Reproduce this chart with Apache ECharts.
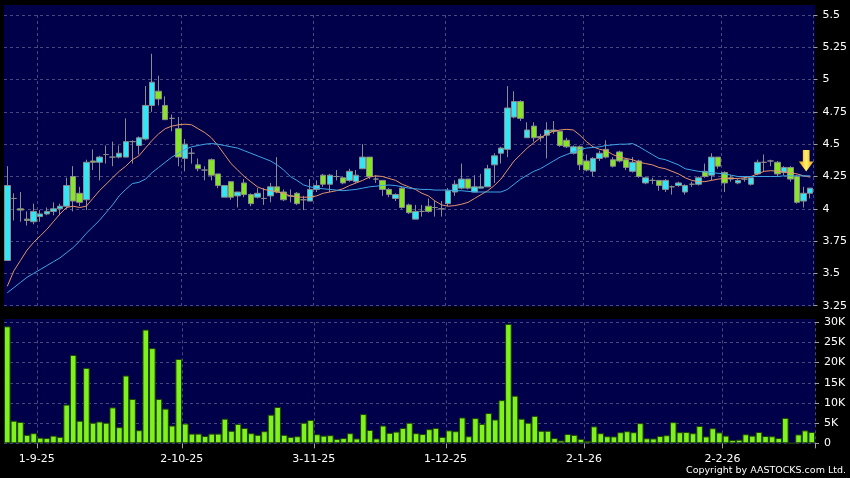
<!DOCTYPE html>
<html>
<head>
<meta charset="utf-8">
<script src="https://cdn.jsdelivr.net/npm/echarts@6/dist/echarts.min.js"></script>
<style>
html,body{margin:0;padding:0;background:#000;}
#chart{width:850px;height:478px;}
</style>
</head>
<body>
<div id="chart"></div>
<script>
const dates = [
'2025-08-25','2025-08-26','2025-08-27','2025-08-28','2025-08-29',
'2025-09-01','2025-09-02','2025-09-03','2025-09-04','2025-09-05',
'2025-09-08','2025-09-09','2025-09-10','2025-09-11','2025-09-12',
'2025-09-15','2025-09-16','2025-09-17','2025-09-18','2025-09-19',
'2025-09-22','2025-09-23','2025-09-24','2025-09-25','2025-09-26',
'2025-09-29','2025-09-30',
'2025-10-02','2025-10-03','2025-10-06','2025-10-08','2025-10-09','2025-10-10',
'2025-10-13','2025-10-14','2025-10-15','2025-10-16','2025-10-17',
'2025-10-20','2025-10-21','2025-10-22','2025-10-23','2025-10-24',
'2025-10-27','2025-10-28','2025-10-30','2025-10-31',
'2025-11-03','2025-11-04','2025-11-05','2025-11-06','2025-11-07',
'2025-11-10','2025-11-11','2025-11-12','2025-11-13','2025-11-14',
'2025-11-17','2025-11-18','2025-11-19','2025-11-20','2025-11-21',
'2025-11-24','2025-11-25','2025-11-26','2025-11-27','2025-11-28',
'2025-12-01','2025-12-02','2025-12-03','2025-12-04','2025-12-05',
'2025-12-08','2025-12-09','2025-12-10','2025-12-11','2025-12-12',
'2025-12-15','2025-12-16','2025-12-17','2025-12-18','2025-12-19',
'2025-12-22','2025-12-23','2025-12-24','2025-12-29','2025-12-30','2025-12-31',
'2026-01-02','2026-01-05','2026-01-06','2026-01-07','2026-01-08','2026-01-09',
'2026-01-12','2026-01-13','2026-01-14','2026-01-15','2026-01-16',
'2026-01-19','2026-01-20','2026-01-21','2026-01-22','2026-01-23',
'2026-01-26','2026-01-27','2026-01-28','2026-01-29','2026-01-30',
'2026-02-02','2026-02-03','2026-02-04','2026-02-05','2026-02-06',
'2026-02-09','2026-02-10','2026-02-11','2026-02-12','2026-02-13',
'2026-02-16','2026-02-20','2026-02-23','2026-02-24'
];

const opens = [3.60,4.08,4.00,3.92,3.90,3.94,3.96,3.98,4.00,4.02,
4.25,4.12,4.07,4.37,4.36,4.42,4.40,4.40,4.40,4.52,
4.49,4.54,4.80,4.91,4.80,4.70,4.62,4.39,4.43,4.34,
4.30,4.38,4.27,4.09,4.21,4.10,4.20,4.11,4.09,4.08,
4.10,4.17,4.13,4.10,4.12,4.07,4.06,4.15,4.26,4.19,
4.25,4.24,4.22,4.21,4.31,4.40,4.23,4.22,4.15,4.08,
4.16,4.03,3.92,3.98,4.02,4.01,4.00,4.04,4.13,4.16,
4.23,4.13,4.16,4.17,4.34,4.43,4.46,4.71,4.83,4.55,
4.64,4.56,4.57,4.61,4.60,4.53,4.43,4.48,4.37,4.29,
4.39,4.46,4.38,4.44,4.38,4.29,4.37,4.20,4.22,4.22,
4.15,4.17,4.18,4.13,4.19,4.19,4.29,4.26,4.40,4.28,
4.24,4.20,4.23,4.19,4.27,4.36,4.37,4.36,4.28,4.32,
4.25,4.06,4.12];

const closes = [4.18,4.08,3.99,3.91,3.98,3.96,3.98,4.00,4.02,4.18,
4.06,4.05,4.36,4.36,4.40,4.42,4.40,4.43,4.52,4.52,
4.55,4.80,4.98,4.85,4.69,4.70,4.40,4.50,4.43,4.31,
4.30,4.26,4.18,4.18,4.09,4.13,4.11,4.04,4.12,4.08,
4.17,4.13,4.07,4.10,4.04,4.07,4.15,4.18,4.19,4.26,
4.25,4.20,4.29,4.26,4.40,4.25,4.23,4.15,4.11,4.11,
4.01,3.97,3.98,3.98,3.98,4.01,4.00,4.14,4.19,4.23,
4.16,4.17,4.17,4.31,4.41,4.47,4.78,4.83,4.70,4.61,
4.55,4.55,4.61,4.60,4.49,4.48,4.48,4.34,4.30,4.39,
4.43,4.40,4.33,4.37,4.32,4.36,4.25,4.24,4.22,4.18,
4.22,4.17,4.20,4.18,4.19,4.24,4.25,4.40,4.33,4.20,
4.23,4.22,4.23,4.24,4.36,4.36,4.37,4.27,4.32,4.23,
4.05,4.12,4.16];

const lows = [3.60,3.91,3.90,3.87,3.88,3.90,3.95,3.95,3.95,4.00,
3.98,4.02,3.99,4.30,4.22,4.35,4.33,4.39,4.40,4.35,
4.42,4.53,4.75,4.80,4.69,4.60,4.33,4.29,4.35,4.29,
4.22,4.22,4.16,4.09,4.07,4.01,4.09,4.02,4.08,4.03,
4.05,4.12,4.06,4.05,4.03,3.99,4.06,4.13,4.17,4.13,
4.22,4.19,4.21,4.20,4.31,4.23,4.20,4.10,4.09,4.06,
4.00,3.96,3.92,3.94,3.97,3.94,3.94,4.02,4.10,4.15,
4.15,4.13,4.16,4.17,4.20,4.35,4.40,4.70,4.68,4.55,
4.52,4.52,4.39,4.58,4.48,4.47,4.42,4.30,4.29,4.25,
4.37,4.39,4.32,4.36,4.30,4.28,4.24,4.19,4.19,4.14,
4.13,4.11,4.17,4.11,4.17,4.18,4.24,4.22,4.31,4.13,
4.21,4.19,4.21,4.18,4.26,4.29,4.33,4.25,4.26,4.21,
4.04,4.01,4.08];

const highs = [4.33,4.12,4.13,3.98,4.04,3.99,4.01,4.05,4.04,4.24,
4.33,4.17,4.38,4.46,4.41,4.49,4.52,4.49,4.70,4.53,
4.56,4.95,5.20,5.03,4.87,4.73,4.71,4.54,4.47,4.39,
4.33,4.39,4.27,4.18,4.21,4.13,4.23,4.12,4.16,4.16,
4.20,4.40,4.15,4.15,4.13,4.10,4.23,4.22,4.27,4.27,
4.30,4.25,4.31,4.30,4.50,4.40,4.26,4.22,4.16,4.12,
4.17,4.04,4.03,4.03,4.08,4.06,4.06,4.16,4.22,4.35,
4.23,4.26,4.27,4.34,4.43,4.48,4.95,4.91,4.84,4.67,
4.67,4.58,4.67,4.68,4.60,4.55,4.49,4.49,4.42,4.40,
4.45,4.53,4.40,4.45,4.39,4.40,4.38,4.25,4.24,4.22,
4.23,4.18,4.21,4.19,4.21,4.25,4.35,4.43,4.40,4.29,
4.26,4.23,4.25,4.24,4.38,4.42,4.38,4.37,4.33,4.33,
4.26,4.17,4.16];

const volumes = [29000,5600,5300,2100,2500,1400,1300,1900,1600,9600,
21900,5600,18700,5100,5400,5100,8900,4000,16800,11000,
3250,28200,23600,11000,8600,4400,20900,4900,2400,2400,
1800,2400,2400,6100,3100,4800,3800,2500,2100,3000,
7100,9000,2100,1600,1750,5100,5800,2250,1900,2000,
1100,1300,2500,1200,7250,3300,1200,4400,2600,2900,
3800,5100,2500,2300,3500,3800,1600,3200,3000,6400,
1750,6250,4800,7500,5900,10700,29600,11800,6100,5100,
6800,3100,3100,1300,700,2300,2100,1100,600,4200,
2500,1750,1700,2750,3000,2750,5000,1250,1200,1800,
2000,5250,2750,2800,2500,4300,1700,3750,2700,1900,
800,900,2250,1900,2800,1800,1750,1300,6300,0,
2200,3200,2800];

const maShort = [3.40,3.52,3.60,3.68,3.74,3.79,3.84,3.90,3.96,4.01,
4.02,4.01,4.02,4.08,4.14,4.19,4.24,4.29,4.33,4.38,
4.41,4.47,4.53,4.58,4.62,4.64,4.65,4.655,4.65,4.62,
4.59,4.55,4.49,4.42,4.35,4.30,4.25,4.21,4.17,4.15,
4.14,4.13,4.12,4.10,4.09,4.09,4.09,4.10,4.12,4.13,
4.14,4.155,4.18,4.20,4.22,4.245,4.255,4.25,4.235,4.22,
4.19,4.17,4.15,4.12,4.10,4.06,4.03,4.02,4.025,4.035,
4.05,4.08,4.11,4.14,4.18,4.23,4.30,4.37,4.42,4.47,
4.51,4.55,4.58,4.60,4.61,4.615,4.61,4.57,4.52,4.48,
4.46,4.45,4.42,4.40,4.39,4.38,4.36,4.35,4.34,4.32,
4.31,4.29,4.27,4.24,4.22,4.21,4.21,4.22,4.23,4.235,
4.235,4.235,4.24,4.25,4.27,4.29,4.295,4.29,4.285,4.28,
4.27,4.255,4.245];

const maLong = [3.35,3.39,3.43,3.47,3.50,3.53,3.56,3.59,3.62,3.66,
3.70,3.75,3.81,3.86,3.91,3.97,4.03,4.10,4.15,4.195,
4.205,4.23,4.28,4.32,4.36,4.40,4.43,4.46,4.48,4.49,
4.50,4.505,4.50,4.49,4.48,4.47,4.45,4.43,4.41,4.39,
4.37,4.34,4.30,4.25,4.22,4.185,4.17,4.16,4.155,4.15,
4.145,4.14,4.145,4.15,4.16,4.17,4.175,4.18,4.184,4.18,
4.17,4.16,4.155,4.15,4.15,4.145,4.145,4.145,4.14,4.14,
4.135,4.13,4.13,4.13,4.13,4.13,4.15,4.19,4.23,4.26,
4.29,4.31,4.34,4.37,4.40,4.42,4.44,4.46,4.47,4.475,
4.48,4.49,4.495,4.50,4.50,4.505,4.48,4.45,4.42,4.39,
4.38,4.36,4.34,4.31,4.30,4.29,4.285,4.28,4.275,4.27,
4.26,4.25,4.25,4.25,4.25,4.25,4.25,4.25,4.255,4.255,
4.255,4.255,4.255];

const priceMin = 3.25, priceMax = 5.5, priceStep = 0.25;
const volMin = 0, volMax = 30000, volStep = 5000;
const labelIndexes = [5, 27, 47, 67, 88, 109];

function fmtDate(s) {
  const p = s.split('-');
  return parseInt(p[2], 10) + '-' + parseInt(p[1], 10) + '-' + p[0].slice(2);
}

const candleData = dates.map((d, i) => [opens[i], closes[i], lows[i], highs[i]]);

const FONT = 'DejaVu Sans';
const gridColor = '#48487f';
const isMarked = (idx) => labelIndexes.indexOf(idx) >= 0;

const chart = echarts.init(document.getElementById('chart'), null, {renderer: 'canvas'});

const option = {
  backgroundColor: '#000000',
  animation: false,
  graphic: [
    {type: 'rect', z: -100, shape: {x: 4, y: 5, width: 811, height: 301.5}, style: {fill: '#00004a'}},
    {type: 'rect', z: -100, shape: {x: 4, y: 319, width: 811, height: 125}, style: {fill: '#00004a'}},
    {type: 'text', right: 4, top: 466, style: {text: 'Copyright by AASTOCKS.com Ltd.', fill: '#ffffff', font: '9.5px "DejaVu Sans"'}}
  ],
  grid: [
    {left: 4, right: 35, top: 15, height: 290.7},
    {left: 4, right: 35, top: 322.3, height: 121}
  ],
  xAxis: [
    {
      type: 'category', gridIndex: 0, data: dates, boundaryGap: true,
      axisLine: {show: false}, axisTick: {show: false}, axisLabel: {show: false},
      splitLine: {show: true, interval: (idx) => isMarked(idx), lineStyle: {color: gridColor, type: [3, 3], width: 1}}
    },
    {
      type: 'category', gridIndex: 1, data: dates, boundaryGap: true,
      axisLine: {show: false},
      axisTick: {show: true, interval: (idx) => isMarked(idx), length: 5, lineStyle: {color: '#a0a0a0'}},
      axisLabel: {
        show: true, interval: (idx) => isMarked(idx), color: '#ffffff',
        fontFamily: FONT, fontSize: 11, margin: 10, padding: [0, 7, 0, 0],
        formatter: (v) => fmtDate(v)
      },
      splitLine: {show: true, interval: (idx) => isMarked(idx), lineStyle: {color: gridColor, type: [3, 3], width: 1}}
    }
  ],
  yAxis: [
    {
      type: 'value', gridIndex: 0, position: 'right', min: priceMin, max: priceMax, interval: priceStep,
      axisLine: {show: false},
      axisTick: {show: true, length: 4, lineStyle: {color: '#a0a0a0'}},
      axisLabel: {color: '#ffffff', fontFamily: FONT, fontSize: 11, margin: 9},
      splitLine: {show: true, lineStyle: {color: gridColor, type: [3, 3], width: 1}}
    },
    {
      type: 'value', gridIndex: 1, position: 'right', min: volMin, max: volMax, interval: volStep,
      axisLine: {show: false},
      axisTick: {show: true, length: 4, lineStyle: {color: '#a0a0a0'}},
      axisLabel: {color: '#ffffff', fontFamily: FONT, fontSize: 11, margin: 9,
        formatter: (v) => v === 0 ? '0' : (v / 1000) + 'K'},
      splitLine: {show: true, lineStyle: {color: gridColor, type: [3, 3], width: 1}}
    }
  ],
  series: [
    {
      type: 'candlestick', xAxisIndex: 0, yAxisIndex: 0, data: candleData,
      barWidth: 6,
      itemStyle: {color: '#33e6f5', color0: '#86e624', borderColor: '#8c8c8c', borderColor0: '#8c8c8c', borderWidth: 1},
      markPoint: {
        silent: true,
        label: {show: false},
        data: [{
          coord: [dates[122], 4.372],
          symbol: 'path://M4,0 L10.7,0 L10.7,11.7 L14.7,11.7 L7.35,21.7 L0,11.7 L4,11.7 Z',
          symbolSize: [14.7, 21.7],
          symbolOffset: [-4, 0],
          itemStyle: {
            color: new echarts.graphic.LinearGradient(0, 0, 1, 0, [
              {offset: 0, color: '#e6a200'}, {offset: 0.5, color: '#fff070'}, {offset: 1, color: '#e6a200'}
            ])
          }
        }]
      }
    },
    {
      type: 'line', xAxisIndex: 0, yAxisIndex: 0, data: maShort, showSymbol: false, symbol: 'none',
      lineStyle: {color: '#e8946a', width: 1}, z: 3
    },
    {
      type: 'line', xAxisIndex: 0, yAxisIndex: 0, data: maLong, showSymbol: false, symbol: 'none',
      lineStyle: {color: '#3fa6e6', width: 1}, z: 3
    },
    {
      type: 'bar', xAxisIndex: 1, yAxisIndex: 1, data: volumes, barWidth: '100%',
      itemStyle: {color: '#7ff21e', borderColor: '#1f4204', borderWidth: 1}
    }
  ]
};
chart.setOption(option);
</script>
</body>
</html>
